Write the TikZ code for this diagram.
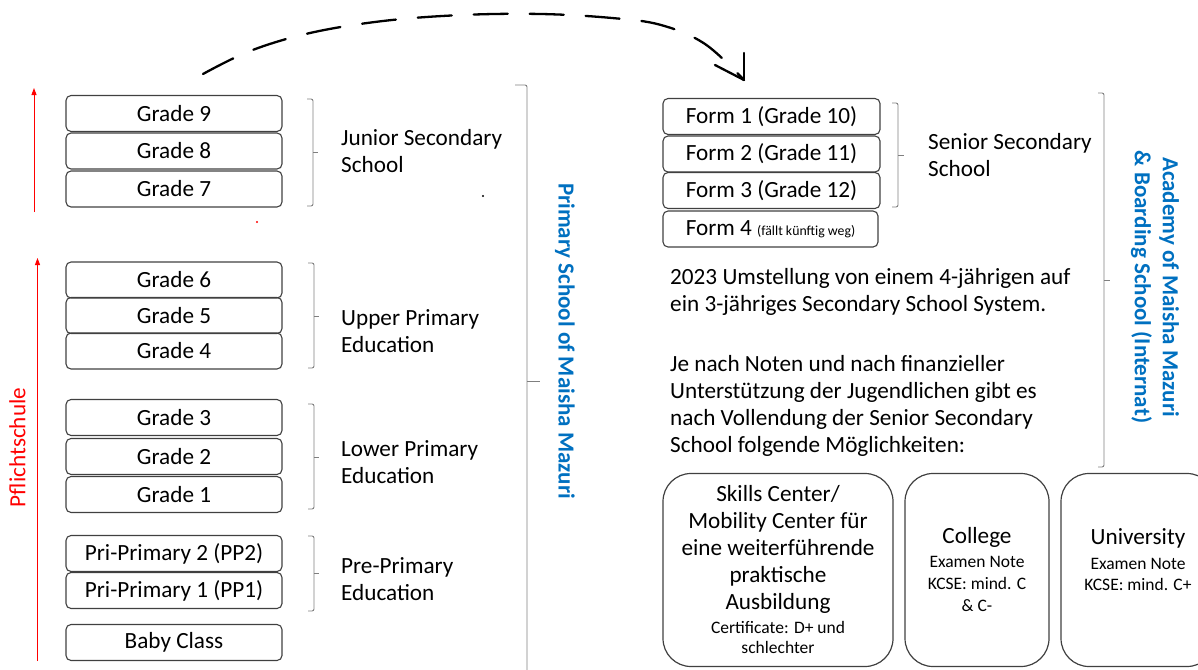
\documentclass[tikz,border=0pt]{standalone}
\usepackage{fontspec}
\setmainfont{Carlito}
\usetikzlibrary{arrows.meta}
\definecolor{blu}{HTML}{0070C0}
\definecolor{brk}{HTML}{7F7F7F}
\definecolor{boxline}{HTML}{404040}
\begin{document}
\begin{tikzpicture}[x=1pt,y=-1pt,
  txt/.style={font=\fontsize{23.2}{27}\selectfont, text=black},
  grade/.style={txt, draw=boxline, line width=1.1pt, rounded corners=5pt,
    minimum width=216pt, minimum height=36pt, inner sep=0pt},
  formbox/.style={grade, minimum width=217pt},
  optbox/.style={txt, draw=boxline, line width=1.2pt, rounded corners=28pt,
    minimum height=193pt, inner sep=0pt, align=center},
  lbl/.style={txt, anchor=west, align=left, inner sep=0pt},
  brace/.style={draw=brk, line width=0.9pt, rounded corners=2pt},
  vtitle/.style={font=\fontsize{23}{28}\selectfont\bfseries, text=blu, align=center, inner sep=0pt},
  redarrow/.style={draw=red, line width=0.9pt, -{Triangle[length=7pt,width=5pt]}}
]
\useasboundingbox (0,0) rectangle (1198,669);

% ---------- left column ----------
\node[grade] (g9) at (174,113.5) {Grade 9};
\node[grade] (g8) at (174,151) {Grade 8};
\node[grade] (g7) at (174,189) {Grade 7};
\node[grade] (g6) at (174,280) {Grade 6};
\node[grade] (g5) at (174,315.5) {Grade 5};
\node[grade] (g4) at (174,351) {Grade 4};
\node[grade] (g3) at (174,417.5) {Grade 3};
\node[grade] (g2) at (174,456.5) {Grade 2};
\node[grade] (g1) at (174,494.5) {Grade 1};
\node[grade] (pp2) at (174,553.5) {Pri-Primary 2 (PP2)};
\node[grade] (pp1) at (174,590.5) {Pri-Primary 1 (PP1)};
\node[grade] (baby) at (174,642.5) {Baby Class};

% red arrows and label
\coordinate (ra1s) at (34,212);
\coordinate (ra1e) at (34,88);
\coordinate (ra2s) at (37.5,661);
\coordinate (ra2e) at (37.5,258);
\draw[redarrow] (ra1s) -- (ra1e);
\draw[redarrow] (ra2s) -- (ra2e);
\node[txt, text=red, rotate=90, inner sep=0pt] (pflicht) at (17.5,447.5) {Pflichtschule};

% stray dots
\fill[red] (257,222) circle (1.1pt);
\fill[black] (483,196) circle (1.1pt);

% small braces left
\draw[brace] (307,99) -- (313,99) -- (313,206) -- (307,206);
\draw[brace] (313,152) -- (318,152);
\draw[brace] (308,263) -- (314,263) -- (314,368) -- (308,368);
\draw[brace] (314,316) -- (319,316);
\draw[brace] (308,404) -- (314,404) -- (314,509) -- (308,509);
\draw[brace] (314,457) -- (319,457);
\draw[brace] (308,536) -- (314,536) -- (314,611) -- (308,611);
\draw[brace] (314,573) -- (319,573);

\node[lbl] (jss) at (341,151) {Junior Secondary\\School};
\node[lbl] (upe) at (341,331) {Upper Primary\\Education};
\node[lbl] (lpe) at (341,462) {Lower Primary\\Education};
\node[lbl] (ppe) at (341,579) {Pre-Primary\\Education};

% big bracket primary
\draw[brace] (515,85) -- (527,85) -- (527,672);
\draw[brace] (527,381) -- (540,381);
\node[vtitle, rotate=-90] (prim) at (565,341) {Primary School of Maisha Mazuri};

% ---------- right column ----------
\node[formbox] (f1) at (771.5,116.5) {Form 1 (Grade 10)};
\node[formbox] (f2) at (771.5,154) {Form 2 (Grade 11)};
\node[formbox] (f3) at (771.5,190.5) {Form 3 (Grade 12)};
\node[formbox, minimum width=215pt] (f4) at (770.5,229) {Form 4 {\fontsize{13.8}{16}\selectfont (fällt künftig weg)}};

\draw[brace] (892,103) -- (898,103) -- (898,207) -- (892,207);
\draw[brace] (898,155) -- (904,155);
\node[lbl] (sss) at (928,155) {Senior Secondary\\School};

\node[lbl] (para1) at (670,291.5) {2023 Umstellung von einem 4-jährigen auf\\ein 3-jähriges Secondary School System.};
\node[lbl] (para2) at (670,406) {Je nach Noten und nach finanzieller\\Unterstützung der Jugendlichen gibt es\\nach Vollendung der Senior Secondary\\School folgende Möglichkeiten:};

% academy bracket
\draw[brace] (1098,93) -- (1104,93) -- (1104,467) -- (1098,467);
\draw[brace] (1104,280) -- (1110,280);
\node[vtitle, rotate=-90] (acad) at (1155,287) {Academy of Maisha Mazuri\\\& Boarding School (Internat)};

% option boxes
\node[optbox, minimum width=230pt] (skills) at (778,570)
  {Skills Center/\\Mobility Center für\\eine weiterführende\\praktische\\Ausbildung\\[-3.5pt]
   {\fontsize{17.5}{21}\selectfont Certificate: D+ und}\\[-6.5pt]
   {\fontsize{17.5}{21}\selectfont schlechter}};
\node[optbox, minimum width=144pt] (college) at (977,570)
  {College\\[-3pt]
   {\fontsize{17.5}{21}\selectfont Examen Note}\\[-5pt]
   {\fontsize{17.5}{21}\selectfont KCSE: mind. C}\\[-5pt]
   {\fontsize{17.5}{21}\selectfont \& C-}};
\node[optbox, minimum width=154pt] (univ) at (1138,570)
  {University\\[-2pt]
   {\fontsize{17.5}{21}\selectfont Examen Note}\\[-6pt]
   {\fontsize{17.5}{21}\selectfont KCSE: mind. C+}\\[-6pt]
   \mbox{}};

% ---------- dashed hand-drawn arrow ----------
\coordinate (dstart) at (203,74);
\coordinate (dend) at (744,80);
\draw[line width=2.3pt, line cap=round, dash pattern=on 34pt off 22pt]
  plot[smooth, tension=0.6] coordinates {(dstart) (250,51) (310,33) (383,21) (462,15) (541,14) (612,18) (661,25) (705,44) (dend)};
\draw[line width=2.3pt, line cap=round] (dend) -- ++(0,-27);
\draw[line width=2.3pt, line cap=round] (dend) -- ++(-29,-15);
\end{tikzpicture}
\end{document}
